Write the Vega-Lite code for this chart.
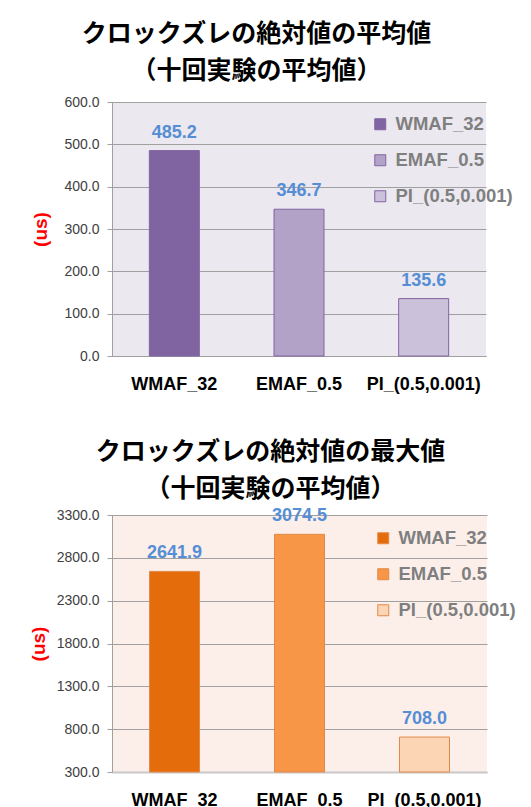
{
  "$schema": "https://vega.github.io/schema/vega-lite/v6.json",
  "background": "white",
  "padding": {"left": 29, "top": 22, "right": 0, "bottom": 0},
  "columns": 1,
  "align": "none",
  "spacing": 47,
  "resolve": {"scale": {"color": "independent", "y": "independent", "x": "independent"}, "legend": {"color": "independent"}},
  "config": {
    "font": "Liberation Sans",
    "axis": {"labelFont": "Liberation Sans", "titleFont": "Liberation Sans"},
    "legend": {"labelFont": "Liberation Sans"}
  },
  "concat": [
    {
      "width": 374,
      "height": 254,
      "title": {"text": ["クロックズレの絶対値の平均値", "（十回実験の平均値）"], "font": "Noto Sans CJK JP", "fontSize": 25, "fontWeight": "bold", "color": "#000000", "lineHeight": 37, "anchor": "middle", "frame": "bounds", "offset": 11, "dx": -16},
      "view": {"fill": "#ebe8f0", "stroke": null},
      "data": {"values": [
        {"method": "WMAF_32", "value": 485.2},
        {"method": "EMAF_0.5", "value": 346.7},
        {"method": "PI_(0.5,0.001)", "value": 135.6}
      ]},
      "encoding": {
        "x": {"field": "method", "type": "nominal", "sort": ["WMAF_32", "EMAF_0.5", "PI_(0.5,0.001)"],
          "scale": {"paddingInner": 0, "paddingOuter": 0},
          "axis": {"title": null, "labelAngle": 0, "labelFontSize": 18, "labelFontWeight": "bold", "labelColor": "#000000", "ticks": false, "labelPadding": 19, "domainColor": "#a0a0a0"}}
      },
      "layer": [
        {
          "mark": {"type": "bar", "width": 50, "stroke": "#8064a2", "strokeWidth": 1},
          "encoding": {
            "y": {"field": "value", "type": "quantitative", "scale": {"domain": [0, 600], "nice": false},
              "axis": {"title": "(us)", "titleColor": "#ff0000", "titleFontSize": 19, "titleFontWeight": "bold", "titlePadding": 13, "values": [0, 100, 200, 300, 400, 500, 600], "format": ".1f", "labelFontSize": 14, "labelColor": "#404040", "tickSize": 5, "tickColor": "#a0a0a0", "domainColor": "#a0a0a0", "gridColor": "#a0a0a0", "labelPadding": 8}},
            "color": {"field": "method", "type": "nominal",
              "scale": {"domain": ["WMAF_32", "EMAF_0.5", "PI_(0.5,0.001)"], "range": ["#8064a2", "#b3a2c7", "#ccc1da"]},
              "legend": {"orient": "none", "legendX": 259, "legendY": 13, "title": null, "symbolType": "square", "symbolSize": 121, "symbolStrokeColor": "#8064a2", "symbolStrokeWidth": 1, "labelFontSize": 18.5, "labelFontWeight": "bold", "labelColor": "#7f7f7f", "rowPadding": 17, "labelOffset": 6}}
          }
        },
        {
          "mark": {"type": "text", "dy": -13, "baseline": "alphabetic", "fontSize": 18, "fontWeight": "bold", "color": "#558ed5"},
          "encoding": {
            "y": {"field": "value", "type": "quantitative"},
            "text": {"field": "value", "type": "quantitative", "format": ".1f"}
          }
        }
      ]
    },
    {
      "width": 375,
      "height": 257,
      "title": {"text": ["クロックズレの絶対値の最大値", "（十回実験の平均値）"], "font": "Noto Sans CJK JP", "fontSize": 25, "fontWeight": "bold", "color": "#000000", "lineHeight": 37, "anchor": "middle", "frame": "bounds", "offset": 5, "dx": -2},
      "view": {"fill": "#fcefea", "stroke": null},
      "data": {"values": [
        {"method": "WMAF_32", "value": 2641.9},
        {"method": "EMAF_0.5", "value": 3074.5},
        {"method": "PI_(0.5,0.001)", "value": 708.0}
      ]},
      "encoding": {
        "x": {"field": "method", "type": "nominal", "sort": ["WMAF_32", "EMAF_0.5", "PI_(0.5,0.001)"],
          "scale": {"paddingInner": 0, "paddingOuter": 0},
          "axis": {"title": null, "labelAngle": 0, "labelFontSize": 18, "labelFontWeight": "bold", "labelColor": "#000000", "ticks": false, "labelPadding": 19, "domainColor": "#c8c8c8", "domainWidth": 2}}
      },
      "layer": [
        {
          "mark": {"type": "bar", "width": 50, "stroke": "#e2894a", "strokeWidth": 1},
          "encoding": {
            "y": {"field": "value", "type": "quantitative", "scale": {"domain": [300, 3300], "nice": false, "zero": false},
              "axis": {"title": "(us)", "titleColor": "#ff0000", "titleFontSize": 19, "titleFontWeight": "bold", "titlePadding": 8, "values": [300, 800, 1300, 1800, 2300, 2800, 3300], "format": ".1f", "labelFontSize": 14, "labelColor": "#404040", "tickSize": 5, "tickColor": "#a0a0a0", "domainColor": "#a0a0a0", "gridColor": "#a0a0a0", "labelPadding": 8}},
            "y2": {"datum": 300},
            "color": {"field": "method", "type": "nominal",
              "scale": {"domain": ["WMAF_32", "EMAF_0.5", "PI_(0.5,0.001)"], "range": ["#e46c0a", "#f79646", "#fcd5b5"]},
              "legend": {"orient": "none", "legendX": 262, "legendY": 14, "title": null, "symbolType": "square", "symbolSize": 121, "symbolStrokeColor": "#e2894a", "symbolStrokeWidth": 1, "labelFontSize": 18.5, "labelFontWeight": "bold", "labelColor": "#7f7f7f", "rowPadding": 17, "labelOffset": 6}}
          }
        },
        {
          "mark": {"type": "text", "dy": -13, "baseline": "alphabetic", "fontSize": 18, "fontWeight": "bold", "color": "#558ed5"},
          "encoding": {
            "y": {"field": "value", "type": "quantitative"},
            "text": {"field": "value", "type": "quantitative", "format": ".1f"}
          }
        }
      ]
    }
  ]
}
